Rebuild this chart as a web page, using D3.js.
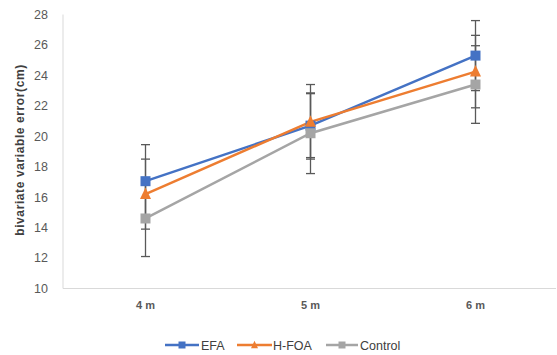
<!DOCTYPE html>
<html><head><meta charset="utf-8">
<script src="https://cdn.jsdelivr.net/npm/d3@7"></script>
<style>body{margin:0;background:#fff}svg{display:block}text{font-family:"Liberation Sans Narrow","Liberation Sans",Arial,sans-serif}</style>
</head><body><svg id="c" width="557" height="355"></svg>
<script>
const categories = ["4 m", "5 m", "6 m"];
const seriesNames = ["EFA", "H-FOA", "Control"];
const efa = [17.05, 20.7, 25.3];
const hfoa = [16.2, 20.95, 24.25];
const control = [14.6, 20.2, 23.4];
const efaErr = [2.4, 2.1, 2.3];
const hfoaErr = [2.3, 2.45, 2.38];
const controlErr = [2.5, 2.65, 2.55];
const yTicks = [10, 12, 14, 16, 18, 20, 22, 24, 26, 28];
const colors = ["#4472C4", "#ED7D31", "#A5A5A5"];
const shapes = ["square", "triangle", "square"];

const series = [
  {name: seriesNames[0], values: efa, err: efaErr, color: colors[0], shape: shapes[0]},
  {name: seriesNames[1], values: hfoa, err: hfoaErr, color: colors[1], shape: shapes[1]},
  {name: seriesNames[2], values: control, err: controlErr, color: colors[2], shape: shapes[2]}
];

const svg = d3.select("#c");
const pL = 63, pR = 558, pT = 14.5, pB = 288.5;
const x = d3.scalePoint().domain(categories).range([pL, pR]).padding(0.5);
const y = d3.scaleLinear().domain([10, 28]).range([pB, pT]);

// axes lines
svg.append("line").attr("x1", pL).attr("x2", pL).attr("y1", pT).attr("y2", pB)
  .attr("stroke", "#d9d9d9").attr("stroke-width", 1);
svg.append("line").attr("x1", pL).attr("x2", 556).attr("y1", pB).attr("y2", pB)
  .attr("stroke", "#d9d9d9").attr("stroke-width", 1);

// y tick labels
svg.append("g").selectAll("text").data(yTicks).join("text")
  .attr("x", 48).attr("y", d => y(d)).attr("dy", "0.35em")
  .attr("text-anchor", "end").attr("font-size", 12.5).attr("fill", "#595959")
  .text(d => d);

// x labels
svg.append("g").selectAll("text").data(categories).join("text")
  .attr("x", d => x(d)).attr("y", 309).attr("text-anchor", "middle")
  .attr("font-size", 11).attr("font-weight", "bold").attr("fill", "#595959")
  .text(d => d);

// y title
svg.append("text").attr("transform", "translate(24,150) rotate(-90)")
  .attr("text-anchor", "middle").attr("font-size", 12).attr("font-weight", "bold")
  .attr("letter-spacing", 0.6)
  .attr("fill", "#404040").text("bivariate variable error(cm)");

// lines
const line = d3.line().x((d, i) => x(categories[i])).y(d => y(d));
series.forEach(s => {
  svg.append("path").datum(s.values).attr("d", line).attr("fill", "none")
    .attr("stroke", s.color).attr("stroke-width", 2.5);
});

// error bars
series.forEach(s => {
  const g = svg.append("g").attr("stroke", "#595959").attr("stroke-width", 1.3);
  s.values.forEach((v, i) => {
    const cx = x(categories[i]);
    const e = s.err[i];
    g.append("line").attr("x1", cx).attr("x2", cx).attr("y1", y(v - e)).attr("y2", y(v + e));
    [v - e, v + e].forEach(t => {
      g.append("line").attr("x1", cx - 4.5).attr("x2", cx + 4.5).attr("y1", y(t)).attr("y2", y(t));
    });
  });
});

// markers
function marker(g, shape, cx, cy, color, size) {
  if (shape === "square") {
    g.append("rect").attr("x", cx - size / 2).attr("y", cy - size / 2)
      .attr("width", size).attr("height", size).attr("fill", color);
  } else {
    const h = size;
    g.append("path").attr("d", `M${cx},${cy - h * 0.6}L${cx + h / 2},${cy + h * 0.45}L${cx - h / 2},${cy + h * 0.45}Z`)
      .attr("fill", color);
  }
}
series.forEach(s => {
  const g = svg.append("g");
  s.values.forEach((v, i) => marker(g, s.shape, x(categories[i]), y(v), s.color, s.shape === "triangle" ? 11 : 10));
});

// legend
const legendPos = [{x1: 165, x2: 199, tx: 201}, {x1: 237, x2: 272, tx: 273}, {x1: 326, x2: 358, tx: 360}];
series.forEach((s, i) => {
  const p = legendPos[i];
  const ly = 345;
  svg.append("line").attr("x1", p.x1).attr("x2", p.x2).attr("y1", ly).attr("y2", ly)
    .attr("stroke", s.color).attr("stroke-width", 2.5);
  marker(svg, s.shape, (p.x1 + p.x2) / 2, ly, s.color, 7);
  svg.append("text").attr("x", p.tx).attr("y", ly).attr("dy", "0.36em")
    .attr("font-size", 12.5).attr("fill", "#404040").text(s.name);
});
</script></body></html>
